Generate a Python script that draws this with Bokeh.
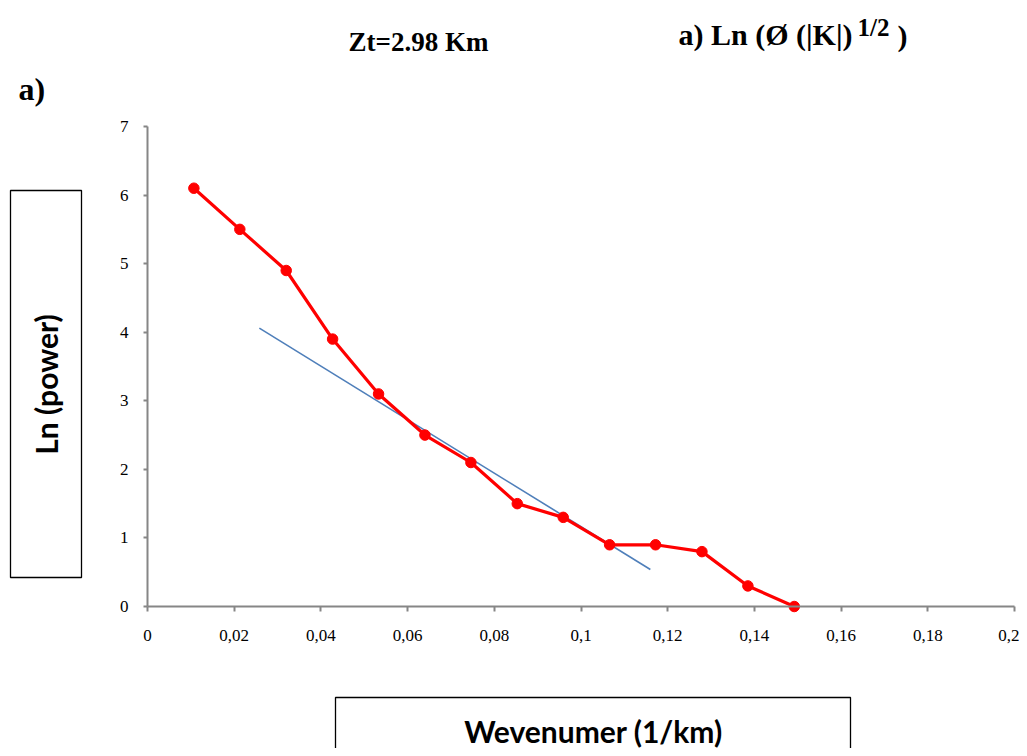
import math
from bokeh.plotting import figure
from bokeh.models import (Range1d, FixedTicker, CustomJSTickFormatter, Label,
                          BoxAnnotation, LinearAxis)
from bokeh.embed import file_html
from bokeh.resources import INLINE

# ---- data ----
wavenumber = [0.0107, 0.0213, 0.0320, 0.0427, 0.0533, 0.0640, 0.0746,
              0.0853, 0.0959, 0.1066, 0.1172, 0.1279, 0.1385, 0.1492]
ln_power = [6.1, 5.5, 4.9, 3.9, 3.1, 2.5, 2.1, 1.5, 1.3, 0.9, 0.9, 0.8, 0.3, 0.0]
fit_x = [0.0258, 0.1160]
fit_y = [4.06, 0.54]
x_ticks = [0, 0.02, 0.04, 0.06, 0.08, 0.1, 0.12, 0.14, 0.16, 0.18, 0.2]
y_ticks = [0, 1, 2, 3, 4, 5, 6, 7]

# ---- layout (pixel geometry of the plotting area) ----
W, H = 1019, 748
PX_X0, PX_X1 = 147, 1014      # pixel of x=0 and x=0.2
PX_Y0, PX_Y1 = 606, 126       # pixel of y=0 and y=7
XMAX, YMAX = 0.2, 7
kx = (PX_X1 - PX_X0) / XMAX
ky = (PX_Y0 - PX_Y1) / YMAX
x_start = -PX_X0 / kx
x_end = XMAX + (W - PX_X1) / kx
y_end = YMAX + PX_Y1 / ky
y_start = -(H - PX_Y0) / ky

def dx(px):
    return x_start + px / kx
def dy(py):
    return y_end - py / ky

p = figure(width=W, height=H, output_backend="svg", toolbar_location=None,
           x_range=Range1d(x_start, x_end), y_range=Range1d(y_start, y_end),
           x_axis_location=None, y_axis_location=None,
           min_border=0)
p.outline_line_color = None
p.xgrid.visible = False
p.ygrid.visible = False
p.background_fill_color = "white"
p.border_fill_color = "white"

axis_col = "#868686"
xax = LinearAxis(fixed_location=0, bounds=(0, XMAX), ticker=FixedTicker(ticks=x_ticks))
yax = LinearAxis(fixed_location=0, bounds=(0, YMAX), ticker=FixedTicker(ticks=y_ticks))
for ax in (xax, yax):
    ax.axis_line_color = axis_col
    ax.axis_line_width = 2
    ax.major_tick_line_color = axis_col
    ax.major_tick_line_width = 2
    ax.minor_tick_line_color = None
    ax.major_tick_in = 0
    ax.major_tick_out = 5
    ax.major_label_text_font = "Liberation Serif"
    ax.major_label_text_font_size = "17px"
    ax.major_label_text_color = "black"
yax.major_tick_out = 4
xax.major_label_standoff = 18
yax.major_label_standoff = 15
xax.formatter = CustomJSTickFormatter(code="""
    if (tick == 0) return '0';
    return tick.toFixed(2).replace(/0+$/, '').replace('.', ',');
""")
p.add_layout(xax, "below")
p.add_layout(yax, "left")

# data
p.line(fit_x, fit_y, line_color="#4f7fba", line_width=1.6)
p.line(wavenumber, ln_power, line_color="#ff0000", line_width=3.2)
p.scatter(wavenumber, ln_power, size=10.5, fill_color="#ff0000", line_color="#ff0000")

# boxes around axis titles
for l, r, t, b in [(10, 81, 190, 577), (335, 850, 697, 800)]:
    p.add_layout(BoxAnnotation(left=dx(l), right=dx(r), top=dy(t), bottom=dy(b),
                               fill_alpha=0, line_color="black", line_alpha=1,
                               line_width=1.3))

p.add_layout(Label(x=dx(45), y=dy(384), text="Ln (power)", angle=math.pi / 2,
                   text_align="center", text_baseline="middle", text_font="Lato",
                   text_font_style="bold", text_font_size="30px", text_color="black"))
p.add_layout(Label(x=dx(593), y=dy(730), text="Wevenumer (1/km)", text_align="center",
                   text_baseline="middle", text_font="Lato", text_font_style="bold",
                   text_font_size="30px", text_color="black"))

# titles
serif = "Liberation Serif"
def title(x, y, t, size, align="left"):
    p.add_layout(Label(x=dx(x), y=dy(y), text=t, text_align=align,
                       text_baseline="middle", text_font=serif,
                       text_font_style="bold", text_font_size=size, text_color="black"))

title(418, 41, "Zt=2.98 Km", "27px", "center")
title(678, 34, "a) Ln (Ø (|K|)", "30px")
title(857, 27, "1/2", "25px")
title(897, 35, ")", "30px")
title(18, 88, "a)", "32px")

open("out.html", "w").write(file_html(p, INLINE))
